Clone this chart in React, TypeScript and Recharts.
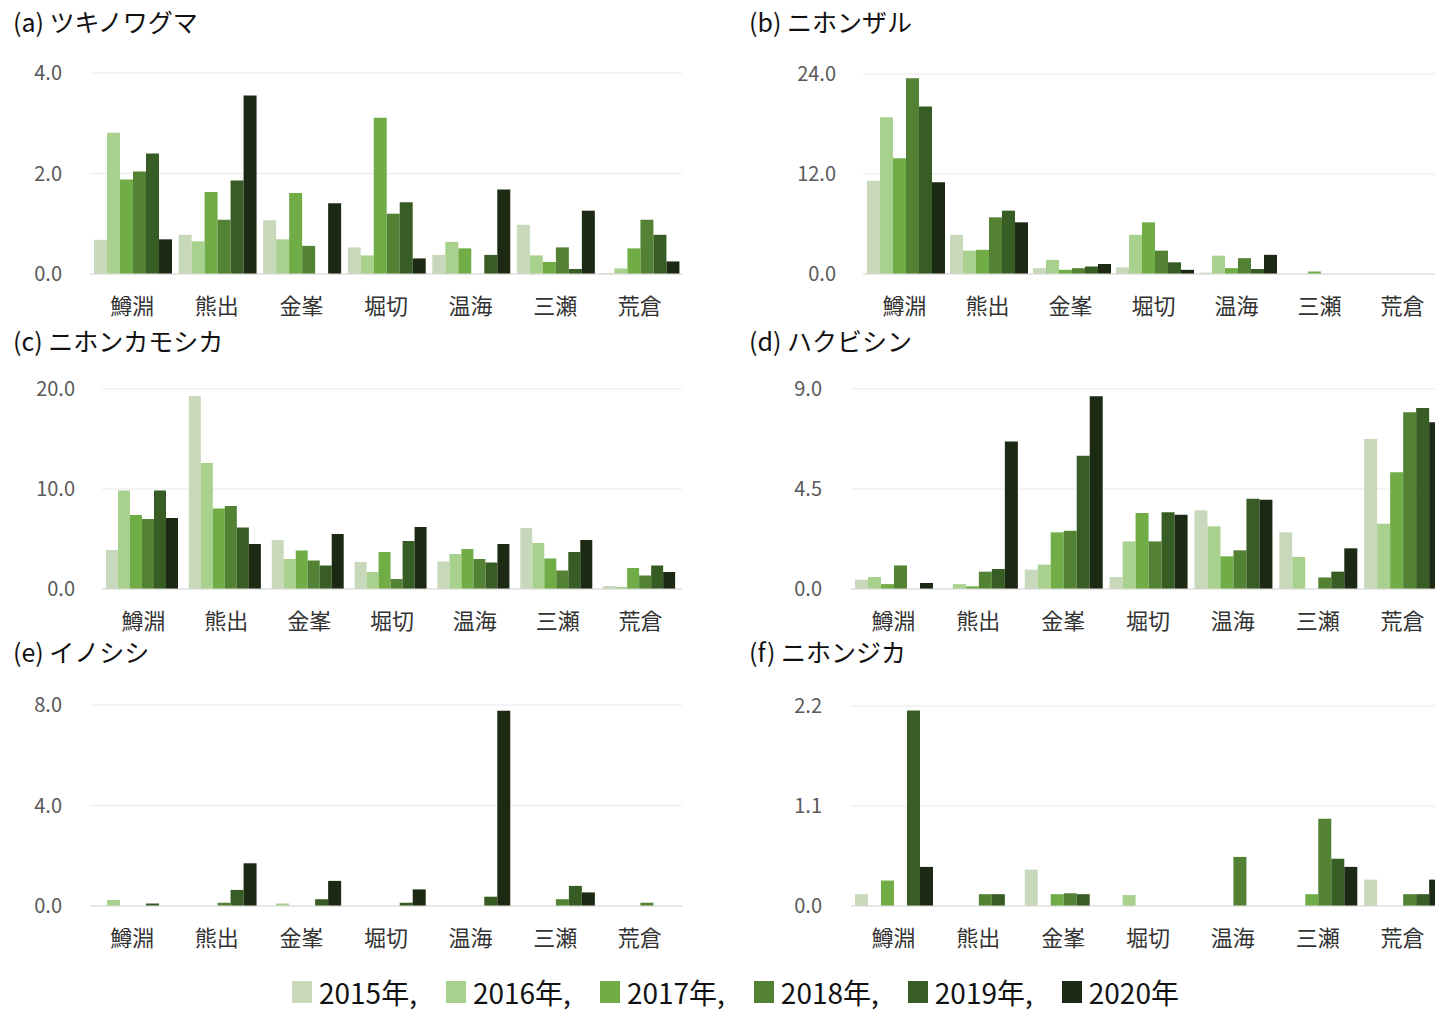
import React from 'react';
import { BarChart, Bar, XAxis, YAxis, CartesianGrid } from 'recharts';

const sites = ['鱒淵', '熊出', '金峯', '堀切', '温海', '三瀬', '荒倉'];
const years = ['2015年', '2016年', '2017年', '2018年', '2019年', '2020年'];
const yearColors = ['#c8d9bb', '#a9d18e', '#70ad47', '#548235', '#385d24', '#1c2a13'];

// rows: sites, columns: 2015..2020
const bearValues = [
  [0.68, 2.81, 1.88, 2.04, 2.4, 0.69],
  [0.78, 0.65, 1.63, 1.08, 1.86, 3.55],
  [1.07, 0.69, 1.61, 0.56, 0, 1.41],
  [0.53, 0.37, 3.11, 1.2, 1.43, 0.31],
  [0.38, 0.64, 0.51, 0, 0.38, 1.68],
  [0.98, 0.37, 0.24, 0.53, 0.1, 1.26],
  [0.02, 0.11, 0.51, 1.08, 0.78, 0.25],
];
const monkeyValues = [
  [11.2, 18.8, 13.9, 23.5, 20.1, 11.0],
  [4.7, 2.8, 2.9, 6.8, 7.6, 6.2],
  [0.7, 1.7, 0.5, 0.7, 0.9, 1.2],
  [0.8, 4.7, 6.2, 2.8, 1.4, 0.5],
  [0.16, 2.2, 0.7, 1.9, 0.6, 2.3],
  [0, 0, 0.3, 0, 0, 0],
  [0, 0, 0, 0, 0, 0],
];
const serowValues = [
  [3.9, 9.85, 7.4, 7.0, 9.85, 7.1],
  [19.3, 12.6, 8.05, 8.3, 6.15, 4.5],
  [4.9, 3.0, 3.85, 2.85, 2.35, 5.5],
  [2.7, 1.7, 3.7, 1.0, 4.8, 6.2],
  [2.75, 3.5, 4.0, 3.0, 2.65, 4.5],
  [6.1, 4.6, 3.05, 1.85, 3.7, 4.9],
  [0.3, 0.2, 2.1, 1.35, 2.35, 1.7],
];
const civetValues = [
  [0.42, 0.54, 0.22, 1.06, 0, 0.27],
  [0, 0.22, 0.12, 0.78, 0.9, 6.64],
  [0.87, 1.1, 2.55, 2.62, 6.0, 8.67],
  [0.54, 2.14, 3.42, 2.14, 3.45, 3.34],
  [3.54, 2.82, 1.47, 1.74, 4.06, 4.02],
  [2.55, 1.44, 0, 0.52, 0.78, 1.83],
  [6.75, 2.94, 5.25, 7.95, 8.14, 7.5],
];
const boarValues = [
  [0, 0.24, 0, 0, 0.1, 0],
  [0, 0, 0, 0.13, 0.64, 1.7],
  [0, 0.1, 0, 0, 0.27, 1.0],
  [0, 0, 0, 0, 0.13, 0.66],
  [0, 0, 0, 0, 0.37, 7.77],
  [0, 0, 0, 0.27, 0.8, 0.54],
  [0, 0, 0, 0.13, 0, 0],
];
const deerValues = [
  [0.13, 0, 0.28, 0, 2.15, 0.43],
  [0, 0, 0, 0.13, 0.13, 0],
  [0.4, 0, 0.13, 0.14, 0.13, 0],
  [0, 0.12, 0, 0, 0, 0],
  [0, 0, 0, 0.54, 0, 0],
  [0, 0, 0.13, 0.96, 0.52, 0.43],
  [0.29, 0, 0, 0.13, 0.13, 0.29],
];

const titles = ['(a) ツキノワグマ', '(b) ニホンザル', '(c) ニホンカモシカ', '(d) ハクビシン', '(e) イノシシ', '(f) ニホンジカ'];
const maxima = [4, 24, 20, 9, 8, 2.2];

const FONT = "'Noto Sans CJK JP', 'Noto Sans', sans-serif";

function buildRows(values: number[][]) {
  return sites.map((s, i) => {
    const row: Record<string, any> = { site: s };
    years.forEach((y, j) => {
      row[y] = values[i][j];
    });
    return row;
  });
}

type Box = { left: number; right: number; top: number; bottom: number };

function Panel(props: {
  title: string;
  titleX: number;
  titleY: number;
  values: number[][];
  max: number;
  plot: Box;
  yMargin: number;
}) {
  const { title, titleX, titleY, values, max, plot, yMargin } = props;
  const yw = 80;
  const mt = 20;
  const xh = 50;
  const left = plot.left - yw;
  const top = plot.top - mt;
  const width = plot.right - left + 2;
  const height = plot.bottom - top + xh;
  const rows = buildRows(values);
  return (
    <>
      <div
        style={{
          position: 'absolute',
          left: titleX,
          top: titleY,
          fontSize: 25,
          lineHeight: '37px',
          color: '#111',
          whiteSpace: 'nowrap',
        }}
      >
        {title}
      </div>
      <div style={{ position: 'absolute', left, top }}>
        <BarChart
          width={width}
          height={height}
          data={rows}
          margin={{ top: mt, right: 2, left: 0, bottom: 0 }}
          barCategoryGap={4}
          barGap={0}
        >
          <CartesianGrid vertical={false} stroke="#e9e9e9" />
          <XAxis
            dataKey="site"
            axisLine={{ stroke: '#d9d9d9' }}
            tickLine={false}
            tickSize={0}
            tickMargin={24}
            height={xh}
            interval={0}
            tick={{ fill: '#333333', fontSize: 22, fontFamily: FONT }}
          />
          <YAxis
            width={yw}
            domain={[0, max]}
            ticks={[0, max / 2, max]}
            tickFormatter={(v: number) => v.toFixed(1)}
            axisLine={false}
            tickLine={false}
            tickSize={0}
            tickMargin={yMargin}
            tick={{ fill: '#595959', fontSize: 20, fontFamily: FONT }}
          />
          {years.map((y, i) => (
            <Bar key={y} dataKey={y} fill={yearColors[i]} isAnimationActive={false} />
          ))}
        </BarChart>
      </div>
    </>
  );
}

export default function App() {
  const allValues = [bearValues, monkeyValues, serowValues, civetValues, boarValues, deerValues];
  const plots: Box[] = [
    { left: 90, right: 682, top: 73, bottom: 274 },
    { left: 863, right: 1444, top: 74, bottom: 274 },
    { left: 102, right: 682, top: 389, bottom: 589 },
    { left: 851, right: 1445, top: 389, bottom: 589 },
    { left: 90, right: 682, top: 705, bottom: 906 },
    { left: 851, right: 1445, top: 706, bottom: 906 },
  ];
  const titlePos = [
    [13, 3],
    [749, 3],
    [13, 322],
    [749, 322],
    [13, 633],
    [749, 633],
  ];
  const yMargins = [28, 27, 27, 29, 28, 29];
  return (
    <div
      style={{
        position: 'absolute',
        left: 0,
        top: 0,
        width: 1435,
        height: 1011,
        overflow: 'hidden',
        background: '#fff',
        fontFamily: FONT,
      }}
    >
      {titles.map((t, i) => (
        <Panel
          key={t}
          title={t}
          titleX={titlePos[i][0]}
          titleY={titlePos[i][1]}
          values={allValues[i]}
          max={maxima[i]}
          plot={plots[i]}
          yMargin={yMargins[i]}
        />
      ))}
      <div
        style={{
          position: 'absolute',
          left: 292,
          top: 973,
          display: 'flex',
          alignItems: 'center',
          fontSize: 28,
          lineHeight: '38px',
          color: '#111',
          whiteSpace: 'nowrap',
        }}
      >
        {years.map((y, i) => (
          <div key={y} style={{ display: 'flex', alignItems: 'center', marginRight: i < years.length - 1 ? 29 : 0 }}>
            <span style={{ display: 'inline-block', width: 20, height: 22, background: yearColors[i], marginRight: 7 }} />
            <span>{y + (i < years.length - 1 ? ',' : '')}</span>
          </div>
        ))}
      </div>
    </div>
  );
}
